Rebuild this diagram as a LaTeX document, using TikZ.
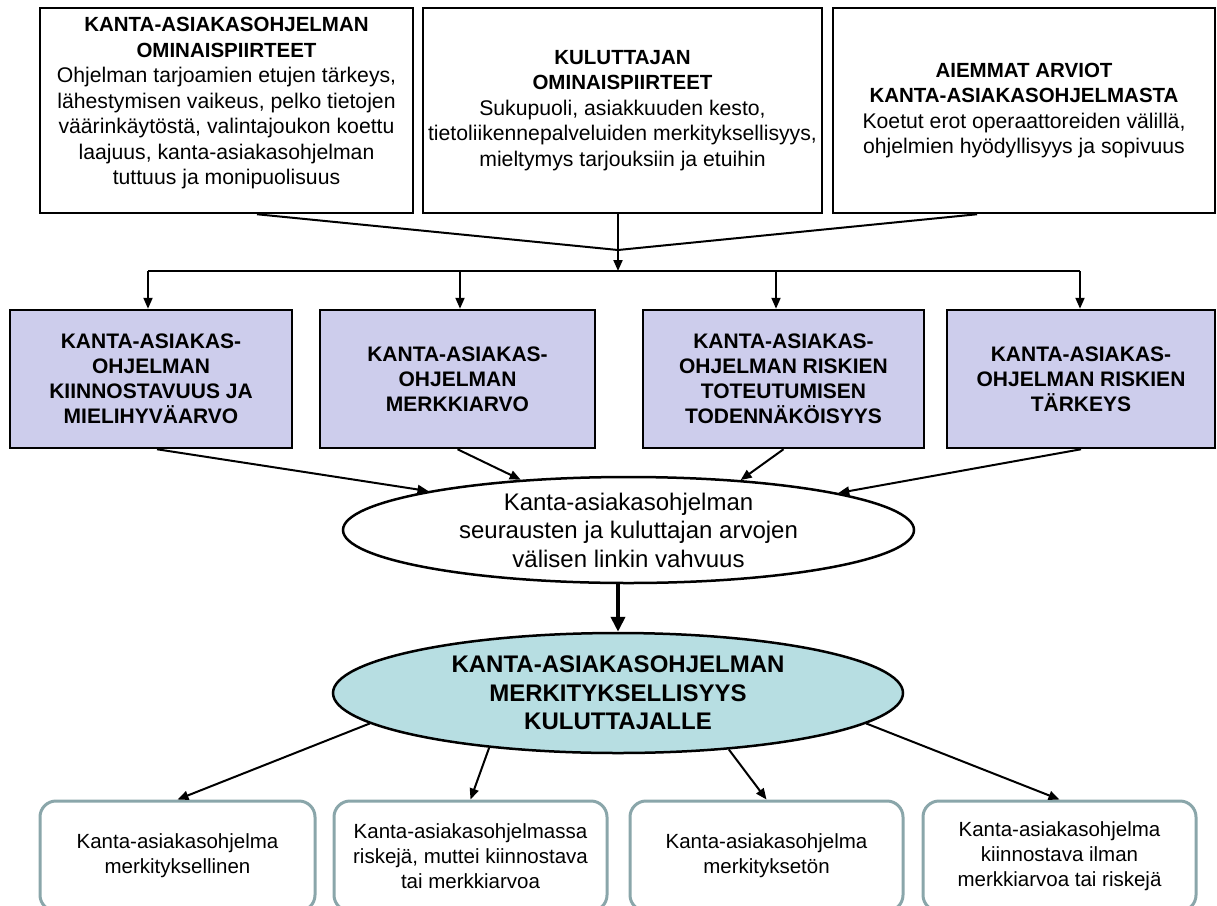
\documentclass[tikz,border=0pt]{standalone}
\usepackage{fontspec}
\setmainfont{Liberation Sans}
\usetikzlibrary{arrows.meta,shapes.geometric,calc}
\definecolor{lav}{RGB}{205,205,236}
\definecolor{tealfill}{RGB}{183,222,226}
\definecolor{grayteal}{RGB}{138,166,170}
\newcommand{\hdr}[1]{{\bfseries\fontsize{20.5}{25.5}\selectfont #1}}
\begin{document}
\begin{tikzpicture}[x=1pt,y=-1pt,
  topbox/.style={draw=black, line width=2.5pt, fill=white, inner sep=0pt, align=center, minimum height=205pt, font=\fontsize{21.2}{25.5}\selectfont},
  midbox/.style={draw=black, line width=2.5pt, fill=lav, inner sep=0pt, align=center, minimum height=138pt, font=\bfseries\fontsize{21}{25}\selectfont},
  botbox/.style={draw=grayteal, line width=3pt, rounded corners=16pt, fill=white, inner sep=0pt, align=center, minimum height=110pt, font=\fontsize{20.5}{25}\selectfont},
  conn/.style={line width=2pt, draw=black},
  arr/.style={conn, -{Triangle[length=11pt,width=9pt]}},
  bigarr/.style={line width=4pt, draw=black, -{Triangle[length=15pt,width=14pt]}},
  ovalshape/.style={ellipse, draw=black, line width=2.5pt, inner sep=0pt},
]
\useasboundingbox (0,0) rectangle (1217,905);

% top boxes
\node[topbox, minimum width=373pt] (b1) at (226.5,110.5)
 {\hdr{KANTA-ASIAKASOHJELMAN}\\\hdr{OMINAISPIIRTEET}\\Ohjelman tarjoamien etujen tärkeys,\\lähestymisen vaikeus, pelko tietojen\\väärinkäytöstä, valintajoukon koettu\\laajuus, kanta-asiakasohjelman\\tuttuus ja monipuolisuus\\[-7pt]\mbox{}};
\node[topbox, minimum width=399pt] (b2) at (622.5,110.5)
 {\hdr{KULUTTAJAN}\\\hdr{OMINAISPIIRTEET}\\Sukupuoli, asiakkuuden kesto,\\tietoliikennepalveluiden merkityksellisyys,\\mieltymys tarjouksiin ja etuihin};
\node[topbox, minimum width=382pt] (b3) at (1024,110.5)
 {\hdr{AIEMMAT ARVIOT}\\\hdr{KANTA-ASIAKASOHJELMASTA}\\Koetut erot operaattoreiden välillä,\\ohjelmien hyödyllisyys ja sopivuus};

% middle boxes
\node[midbox, minimum width=282pt] (mA) at (151,379)
 {KANTA-ASIAKAS-\\OHJELMAN\\KIINNOSTAVUUS JA\\MIELIHYVÄARVO};
\node[midbox, minimum width=275pt] (mB) at (457.5,379)
 {KANTA-ASIAKAS-\\OHJELMAN\\MERKKIARVO};
\node[midbox, minimum width=281pt] (mC) at (783.5,379)
 {KANTA-ASIAKAS-\\OHJELMAN RISKIEN\\TOTEUTUMISEN\\TODENNÄKÖISYYS};
\node[midbox, minimum width=268pt] (mD) at (1081,379)
 {KANTA-ASIAKAS-\\OHJELMAN RISKIEN\\TÄRKEYS};

% ellipses
\node[ovalshape, fill=white, minimum width=571pt, minimum height=106pt] (ell) at (628.5,530) {};
\node[align=center, inner sep=0pt, font=\fontsize{24}{28.5}\selectfont] (ellt) at (ell.center)
 {Kanta-asiakasohjelman\\seurausten ja kuluttajan arvojen\\välisen linkin vahvuus};
\node[ovalshape, fill=tealfill, minimum width=570pt, minimum height=120pt] (mk) at (618,693) {};
\node[align=center, inner sep=0pt, font=\bfseries\fontsize{24}{28.5}\selectfont] (mkt) at (mk.center)
 {KANTA-ASIAKASOHJELMAN\\MERKITYKSELLISYYS\\KULUTTAJALLE};

% bottom boxes
\node[botbox, minimum width=275pt] (o1) at (177.5,856)
 {Kanta-asiakasohjelma\\merkityksellinen};
\node[botbox, minimum width=273pt] (o2) at (470.5,856)
 {Kanta-asiakasohjelmassa\\riskejä, muttei kiinnostava\\tai merkkiarvoa};
\node[botbox, minimum width=273pt] (o3) at (766.5,856)
 {Kanta-asiakasohjelma\\merkityksetön};
\node[botbox, minimum width=273pt] (o4) at (1059.5,856)
 {Kanta-asiakasohjelma\\kiinnostava ilman\\merkkiarvoa tai riskejä};

% top connectors
\coordinate (j) at (618,250);
\coordinate (hl) at (148,271);
\coordinate (hr) at (1080,271);
\draw[conn] ($(b1.south)+(30.5,0)$) -- (j);
\draw[conn] ($(b3.south)+(-47,0)$) -- (j);
\draw[arr] (b2.south -| j) -- (j |- hl);
\draw[conn] (hl) -- (hr);
\draw[arr] (hl) -- (hl |- mA.north);
\draw[arr] ($(mB.north |- hl)+(2.5,0)$) -- ($(mB.north)+(2.5,0)$);
\draw[arr] ($(mC.north |- hl)+(-7.5,0)$) -- ($(mC.north)+(-7.5,0)$);
\draw[arr] (hr) -- (hr |- mD.north);

% into the first ellipse
\draw[arr] ($(mA.south)+(6,0)$) -- (ell.169.4);
\draw[arr] (mB.south) -- (ell.155.5);
\draw[arr] (mC.south) -- (ell.24.5);
\draw[arr] (mD.south) -- (ell.10.6);

% heavy arrow
\draw[bigarr] (mk.north |- ell.south) -- (mk.north);

% outcomes
\draw[arr] (mk.187) -- (o1.north);
\draw[arr] (mk.203) -- (o2.north);
\draw[arr] (mk.333) -- (o3.north);
\draw[arr] (mk.353.4) -- (o4.north);
\end{tikzpicture}
\end{document}
